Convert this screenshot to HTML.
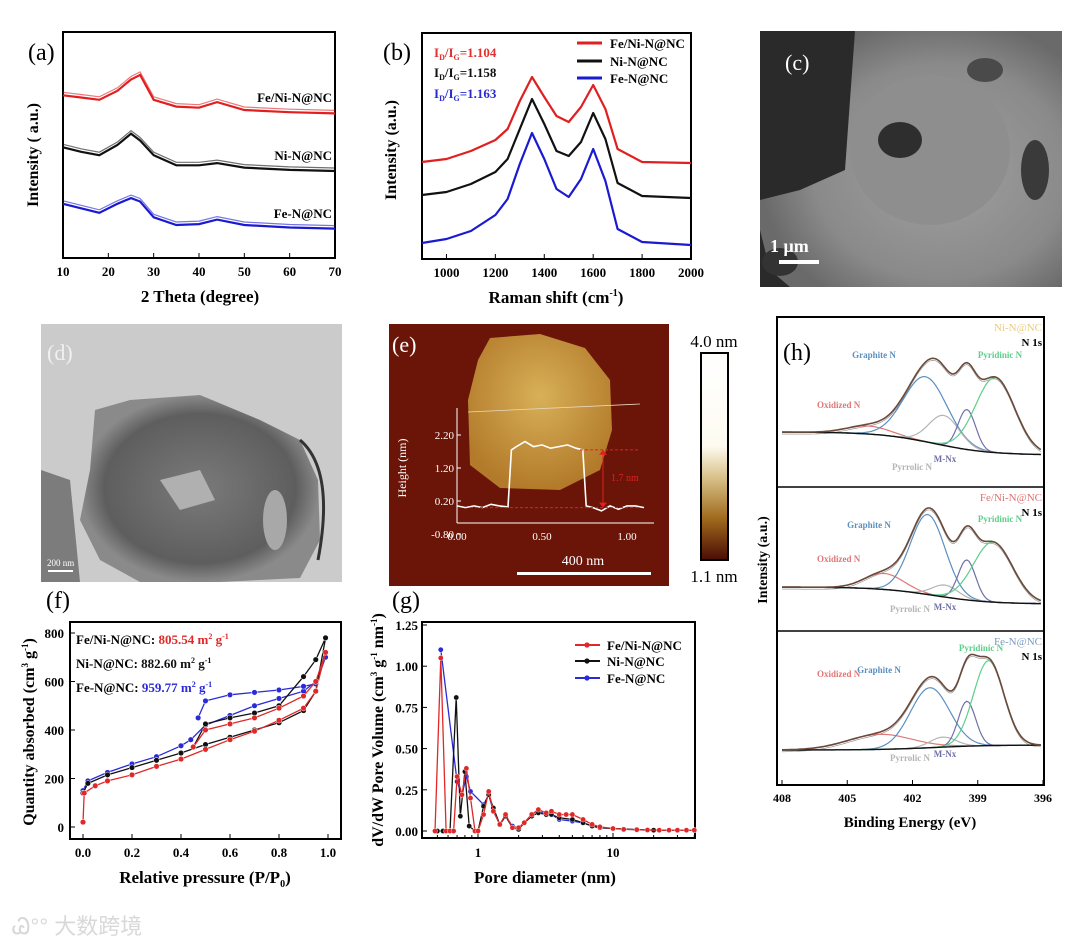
<!DOCTYPE html>
<html><head><meta charset="utf-8"><style>
html,body{margin:0;padding:0;background:#fff;}
svg{display:block;font-family:"Liberation Serif",serif;}
.b{font-weight:bold;}
</style></head><body>
<svg id="fig" width="1080" height="945" viewBox="0 0 1080 945" xmlns="http://www.w3.org/2000/svg">
<defs>
<linearGradient id="cbar" x1="0" y1="0" x2="0" y2="1">
<stop offset="0" stop-color="#ffffff"/><stop offset="0.45" stop-color="#fdfbf0"/><stop offset="0.6" stop-color="#d9c28a"/><stop offset="0.8" stop-color="#a06a1c"/><stop offset="1" stop-color="#4a0c05"/></linearGradient>
<radialGradient id="semG" cx="0.6" cy="0.55" r="0.6"><stop offset="0" stop-color="#a0a0a0"/><stop offset="0.7" stop-color="#8a8a8a"/><stop offset="1" stop-color="#6a6a6a"/></radialGradient>
<radialGradient id="temG" cx="0.5" cy="0.5" r="0.5"><stop offset="0" stop-color="#7a7a7a"/><stop offset="0.8" stop-color="#5e5e5e"/><stop offset="1" stop-color="#8a8a8a"/></radialGradient>
<radialGradient id="flakeG" cx="0.5" cy="0.4" r="0.6"><stop offset="0" stop-color="#d8b058"/><stop offset="1" stop-color="#b27a2a"/></radialGradient>
</defs>

<!-- (c) SEM image -->
<g>
<rect x="760" y="31" width="302" height="256" fill="#2a2a2a"/>
<path d="M855,31 L1062,31 L1062,287 L790,287 L770,270 L760,230 L760,200 L800,190 L845,170 L850,100 Z" fill="url(#semG)"/>
<ellipse cx="930" cy="150" rx="80" ry="75" fill="#8e8e8e"/>
<ellipse cx="900" cy="140" rx="22" ry="18" fill="#2e2e2e"/>
<ellipse cx="1035" cy="170" rx="14" ry="30" fill="#3a3a3a"/>
<ellipse cx="985" cy="70" rx="18" ry="12" fill="#4a4a4a"/>
<ellipse cx="780" cy="262" rx="18" ry="14" fill="#333"/>
<text x="785" y="70" font-size="22" fill="#fff">(c)</text>
<text x="770" y="252" font-size="18" fill="#fff" class="b">1 μm</text>
<rect x="779" y="260" width="40" height="4" fill="#fff"/>
</g>

<!-- (d) TEM image -->
<g>
<rect x="41" y="324" width="301" height="258" fill="#cbcbcb"/>
<path d="M95,410 L130,400 L200,395 L260,420 L300,440 L318,480 L320,540 L300,578 L220,582 L140,582 L100,560 L80,520 L90,470 Z" fill="url(#temG)"/>
<path d="M41,470 L70,480 L80,582 L41,582 Z" fill="#7c7c7c"/>
<path d="M160,480 L200,470 L215,500 L180,510 Z" fill="#b0b0b0"/>
<ellipse cx="275" cy="520" rx="12" ry="30" fill="#a8a8a8"/>
<path d="M300,440 Q335,470 318,560" stroke="#333" stroke-width="3" fill="none"/>
<text x="47" y="360" font-size="22" fill="#f0f0f0">(d)</text>
<text x="47" y="566" font-size="9" fill="#fff">200 nm</text>
<rect x="48" y="570" width="25" height="2" fill="#fff"/>
</g>

<!-- (e) AFM image -->
<g>
<rect x="389" y="324" width="280" height="262" fill="#6b1408"/>
<path d="M490,338 L540,334 L585,348 L610,380 L612,430 L600,470 L560,490 L500,488 L470,465 L468,400 L478,360 Z" fill="url(#flakeG)"/>
<text x="392" y="352" font-size="22" fill="#fff">(e)</text>
<line x1="468" y1="412" x2="640" y2="404" stroke="#e8d8c0" stroke-width="0.8"/>
<g id="afmInset"></g>
<text x="583" y="565" font-size="14" fill="#fff" text-anchor="middle">400 nm</text>
<rect x="517" y="572" width="134" height="3" fill="#fff"/>
<rect x="701" y="353" width="27" height="207" fill="url(#cbar)" stroke="#000" stroke-width="2"/>
<text x="714" y="347" font-size="17" text-anchor="middle">4.0 nm</text>
<text x="714" y="582" font-size="17" text-anchor="middle">1.1 nm</text>
</g>

<g id="panels"></g>

<!-- watermark -->
<text x="12" y="934" font-size="22" fill="#d8d8d8" font-family="'Liberation Sans','Noto Sans CJK SC',sans-serif">Ꮚ°° 大数跨境</text>
</svg>

<script>
// ---------- (a) XRD data ----------
const xrdX = [10,14,18,22,25,27,30,35,40,44,50,60,70];
const xrdRed = [0.72,0.71,0.70,0.74,0.79,0.81,0.70,0.67,0.665,0.69,0.655,0.645,0.64];
const xrdBlack = [0.49,0.47,0.455,0.50,0.55,0.52,0.455,0.41,0.41,0.42,0.40,0.39,0.385];
const xrdBlue = [0.24,0.22,0.20,0.24,0.265,0.25,0.18,0.146,0.15,0.17,0.146,0.135,0.13];
const xrdTicks = [10,20,30,40,50,60,70];
// ---------- (b) Raman data ----------
const ramX = [900,1000,1100,1200,1250,1300,1350,1400,1450,1500,1550,1600,1650,1700,1800,2000];
const ramRed = [97,100,108,119,130,158,182,162,143,137,152,174,150,110,97,96];
const ramBlack = [64,67,75,87,100,130,160,135,108,103,117,146,120,76,63,61];
const ramBlue = [16,20,28,44,60,95,126,100,70,62,80,110,78,30,17,14];
const ramTicks = [1000,1200,1400,1600,1800,2000];
// ---------- (e) AFM height profile ----------
const afmX = [0,0.05,0.1,0.15,0.2,0.25,0.3,0.32,0.35,0.4,0.45,0.5,0.55,0.6,0.65,0.7,0.74,0.76,0.8,0.85,0.9,0.95,1.0,1.05,1.1];
const afmH = [0.05,0.0,0.05,0.0,0.1,0.05,0.02,1.75,1.85,2.0,1.85,1.9,1.8,1.85,1.9,1.8,1.75,0.05,0.0,-0.1,0.05,-0.05,0.05,0.05,0.0];
const afmYTicks = [-0.80,0.20,1.20,2.20];
const afmXTicks = [0.00,0.50,1.00];
// ---------- (f) BET isotherms ----------
const betRedP = [0,0.005,0.05,0.1,0.2,0.3,0.4,0.5,0.6,0.7,0.8,0.9,0.95,0.99,0.95,0.9,0.8,0.7,0.6,0.5,0.45];
const betRedQ = [20,140,170,190,215,250,280,320,360,395,440,490,560,720,600,540,490,450,425,400,330];
const betBlackP = [0,0.02,0.1,0.2,0.3,0.4,0.5,0.6,0.7,0.8,0.9,0.95,0.99,0.95,0.9,0.8,0.7,0.6,0.5,0.45];
const betBlackQ = [140,180,215,245,275,305,340,370,400,430,480,560,780,690,620,500,470,450,425,330];
const betBlueP = [0,0.02,0.1,0.2,0.3,0.4,0.44,0.5,0.6,0.7,0.8,0.9,0.95,0.99,0.95,0.9,0.8,0.7,0.6,0.5,0.47];
const betBlueQ = [150,190,225,260,290,335,360,420,460,500,530,560,600,700,590,580,565,555,545,520,450];
const betXTicks = [0.0,0.2,0.4,0.6,0.8,1.0];
const betYTicks = [0,200,400,600,800];
// ---------- (g) pore size distribution ----------
const psdRedD = [0.48,0.53,0.58,0.62,0.66,0.7,0.76,0.82,0.88,0.95,1.0,1.1,1.2,1.3,1.45,1.6,1.8,2.0,2.2,2.5,2.8,3.2,3.5,4,4.5,5,6,7,8,10,12,15,18,22,26,30,35,40];
const psdRedV = [0,1.05,0,0,0,0.33,0.22,0.38,0.2,0,0,0.1,0.24,0.12,0.04,0.1,0.02,0.02,0.05,0.1,0.13,0.11,0.12,0.1,0.1,0.1,0.07,0.04,0.025,0.015,0.01,0.008,0.006,0.005,0.005,0.005,0.005,0.005];
const psdBlackD = [0.5,0.55,0.62,0.69,0.74,0.8,0.86,0.95,1.0,1.1,1.2,1.3,1.45,1.6,1.8,2.0,2.2,2.5,2.8,3.2,3.5,4,5,6,7,8,10,15,20,30,40];
const psdBlackV = [0,0,0,0.81,0.09,0.36,0.03,0,0,0.15,0.22,0.14,0.04,0.09,0.02,0.01,0.05,0.09,0.11,0.1,0.1,0.08,0.07,0.05,0.03,0.02,0.015,0.008,0.005,0.005,0.005];
const psdBlueD = [0.53,0.7,0.76,0.82,0.88,1.1,1.2,1.3,1.45,1.6,1.8,2.0,2.2,2.5,2.8,3.2,3.5,4,5,6,7,8,10,15,20,30,40];
const psdBlueV = [1.1,0.3,0.22,0.33,0.24,0.16,0.22,0.12,0.04,0.09,0.03,0.02,0.05,0.1,0.12,0.1,0.1,0.07,0.06,0.05,0.03,0.02,0.015,0.008,0.005,0.005,0.005];
const psdYTicks = [0.00,0.25,0.50,0.75,1.00,1.25];
const psdXTicks = [1,10];
// ---------- (h) XPS N1s fits: components [Oxidized, Graphite, Pyrrolic, M-Nx, Pyridinic] ----------
const xpsNames = ["Oxidized N","Graphite N","Pyrrolic N","M-Nx","Pyridinic N"];
const xpsCenters = [[404.0,401.4,400.55,399.5,398.2],[403.3,401.3,400.5,399.5,398.3],[403.5,401.2,400.6,399.5,398.5]];
const xpsAmps = [[8,65,30,40,75],[16,80,12,40,60],[15,60,10,45,85]];
const xpsWidths = [[1.0,1.0,0.7,0.4,0.9],[0.9,0.8,0.6,0.4,0.9],[1.5,0.9,0.6,0.4,0.7]];
const xpsSamples = ["Ni-N@NC","Fe/Ni-N@NC","Fe-N@NC"];
const xpsTicks = [408,405,402,399,396];

const NS="http://www.w3.org/2000/svg";
const root=document.getElementById('panels');
function el(tag,attrs,parent){const e=document.createElementNS(NS,tag);for(const k in attrs)e.setAttribute(k,attrs[k]);(parent||root).appendChild(e);return e;}
function txt(s,x,y,size,attrs,parent){const t=el('text',Object.assign({x:x,y:y,'font-size':size},attrs||{}),parent);t.textContent=s;return t;}
function path(xs,ys,sx,sy){return xs.map((v,i)=>(i?'L':'M')+sx(v).toFixed(1)+','+sy(ys[i]).toFixed(1)).join(' ');}
function lin(d0,d1,r0,r1){return v=>r0+(v-d0)/(d1-d0)*(r1-r0);}
function frame(x,y,w,h,name){const r=el('rect',{x:x,y:y,width:w,height:h,fill:'none',stroke:'#000','stroke-width':2});return r;}

// ===== (a) =====
{
const sx=lin(10,70,63,335), sy=lin(0,1,258,32);
frame(63,32,272,226,'xrd-plot-frame');
txt('(a)',28,60,24);
xrdTicks.forEach(t=>{el('line',{x1:sx(t),y1:258,x2:sx(t),y2:253,stroke:'#000'});const l=txt(t,sx(t),276,13,{'text-anchor':'middle',class:'b'});});
const xt=txt('2 Theta (degree)',200,302,17,{'text-anchor':'middle',class:'b'});
const yt=txt('Intensity ( a.u.)',0,0,16,{'text-anchor':'middle',class:'b',transform:'translate(38,155) rotate(-90)'});
[[xrdRed,'#e02020','Fe/Ni-N@NC',102,'xrd-line-fe-ni'],[xrdBlack,'#111','Ni-N@NC',160,'xrd-line-ni'],[xrdBlue,'#1a1ad0','Fe-N@NC',218,'xrd-line-fe']].forEach(s=>{
const p=el('path',{d:path(xrdX,s[0],sx,sy),fill:'none',stroke:s[1],'stroke-width':2.2});
el('path',{d:path(xrdX,s[0],sx,v=>sy(v)-3),fill:'none',stroke:s[1],'stroke-width':1.2,opacity:0.6});
const l=txt(s[2],332,s[3],13,{'text-anchor':'end',class:'b'});
});
}
// ===== (b) =====
{
const sx=lin(900,2000,422,691), sy=lin(0,226,259,33);
frame(422,33,269,226,'raman-plot-frame');
txt('(b)',383,60,24);
ramTicks.forEach(t=>{el('line',{x1:sx(t),y1:259,x2:sx(t),y2:254,stroke:'#000'});const l=txt(t,sx(t),277,13,{'text-anchor':'middle',class:'b'});});
const xt=el('text',{x:556,y:303,'font-size':17,'text-anchor':'middle',class:'b'});xt.innerHTML='Raman shift (cm<tspan font-size="10" dy="-7">-1</tspan><tspan dy="7">)</tspan>';
const yt=txt('Intensity (a.u.)',0,0,16,{'text-anchor':'middle',class:'b',transform:'translate(396,150) rotate(-90)'});
const leg=[['#e02020','Fe/Ni-N@NC',43],['#111','Ni-N@NC',61],['#1a1ad0','Fe-N@NC',78]];
[[ramRed,'raman-line-fe-ni'],[ramBlack,'raman-line-ni'],[ramBlue,'raman-line-fe']].forEach((s,i)=>{
const p=el('path',{d:path(ramX,s[0],sx,sy),fill:'none',stroke:leg[i][0],'stroke-width':2.2,'stroke-linejoin':'round'});
const ln=el('line',{x1:577,y1:leg[i][2],x2:602,y2:leg[i][2],stroke:leg[i][0],'stroke-width':3});
const l=txt(leg[i][1],610,leg[i][2]+5,13,{class:'b'});
});
[['#e03030','1.104',57],['#111','1.158',77],['#2a2ad0','1.163',98]].forEach(r=>{
const g=el('text',{x:434,y:r[2],'font-size':13,fill:r[0],class:'b'});
g.innerHTML='I<tspan font-size="8" dy="3">D</tspan><tspan dy="-3">/I</tspan><tspan font-size="8" dy="3">G</tspan><tspan dy="-3">='+r[1]+'</tspan>';
});
}
// ===== (e) inset =====
{
const g=document.getElementById('afmInset');
const sx=lin(0,1,457,627), sy=lin(0.2,2.2,501,435);
el('line',{x1:457,y1:408,x2:457,y2:523,stroke:'#fff','stroke-width':1},g);
el('line',{x1:457,y1:523,x2:654,y2:523,stroke:'#fff','stroke-width':1},g);
afmYTicks.forEach(t=>{el('line',{x1:457,y1:sy(t),x2:461,y2:sy(t),stroke:'#fff'},g);txt(t.toFixed(2),454,sy(t)+4,11,{'text-anchor':'end',fill:'#fff'},g);});
afmXTicks.forEach(t=>{txt(t.toFixed(2),sx(t),540,11,{'text-anchor':'middle',fill:'#fff'},g);});
txt('Height (nm)',0,0,12,{fill:'#fff','text-anchor':'middle',transform:'translate(406,468) rotate(-90)'},g);
const p=el('path',{d:path(afmX,afmH,sx,sy),fill:'none',stroke:'#fff','stroke-width':1.6},g);

el('line',{x1:580,y1:sy(1.75),x2:640,y2:sy(1.75),stroke:'#e02020','stroke-dasharray':'3,2'},g);
el('line',{x1:470,y1:sy(0.0),x2:640,y2:sy(0.0),stroke:'#e02020','stroke-dasharray':'3,2'},g);
el('line',{x1:603,y1:sy(1.7),x2:603,y2:sy(0.05),stroke:'#e02020'},g);
el('path',{d:`M599,${sy(1.6)} L603,${sy(1.75)} L607,${sy(1.6)} Z M599,${sy(0.15)} L603,${sy(0.0)} L607,${sy(0.15)} Z`,fill:'#e02020'},g);
txt('1.7 nm',611,481,10,{fill:'#e02020'},g);
}
// ===== (f) =====
{
const sx=lin(0,1,83,328), sy=lin(0,800,827,633);
frame(70,622,271,217,'bet-plot-frame');
txt('(f)',46,608,24);
betXTicks.forEach(t=>{el('line',{x1:sx(t),y1:839,x2:sx(t),y2:834,stroke:'#000'});const l=txt(t.toFixed(1),sx(t),857,13,{'text-anchor':'middle',class:'b'});});
betYTicks.forEach(t=>{el('line',{x1:70,y1:sy(t),x2:75,y2:sy(t),stroke:'#000'});const l=txt(t,64,sy(t)+5,13,{'text-anchor':'end',class:'b'});});
const xt=el('text',{x:205,y:883,'font-size':17,'text-anchor':'middle',class:'b'});xt.innerHTML='Relative pressure (P/P<tspan font-size="10" dy="4">0</tspan><tspan dy="-4">)</tspan>';
const yt=el('text',{'font-size':16,'text-anchor':'middle',class:'b',transform:'translate(34,732) rotate(-90)'});yt.innerHTML='Quantity absorbed (cm<tspan font-size="9" dy="-6">3</tspan><tspan dy="6"> g</tspan><tspan font-size="9" dy="-6">-1</tspan><tspan dy="6">)</tspan>';
[[betBlueP,betBlueQ,'#2a2ad8','bet-line-fe'],[betBlackP,betBlackQ,'#111','bet-line-ni'],[betRedP,betRedQ,'#e02828','bet-line-fe-ni']].forEach(s=>{
const p=el('path',{d:path(s[0],s[1],sx,sy),fill:'none',stroke:s[2],'stroke-width':1.3});
s[0].forEach((v,i)=>{const c=el('circle',{cx:sx(v),cy:sy(s[1][i]),r:2.8,fill:s[2],stroke:'#fff','stroke-width':0.5});});
});
[['Fe/Ni-N@NC: ','805.54','#e02828',644],['Ni-N@NC: ','882.60','#111',668],['Fe-N@NC: ','959.77','#2a2ad8',692]].forEach(a=>{
const t=el('text',{x:76,y:a[3],'font-size':13,class:'b'});t.innerHTML=a[0]+'<tspan fill="'+a[2]+'">'+a[1]+' m<tspan font-size="8" dy="-5">2</tspan><tspan dy="5"> g</tspan><tspan font-size="8" dy="-5">-1</tspan></tspan>';
});
}
// ===== (g) =====
{
const sx=v=>478+135*Math.log10(v), sy=lin(0,1.25,831,625);
frame(422,622,273,216,'psd-plot-frame');
txt('(g)',392,608,24);
psdXTicks.forEach(t=>{el('line',{x1:sx(t),y1:838,x2:sx(t),y2:833,stroke:'#000'});const l=txt(t,sx(t),857,13,{'text-anchor':'middle',class:'b'});});
[0.5,0.6,0.7,0.8,0.9,2,3,4,5,6,7,8,9,20,30,40].forEach(t=>el('line',{x1:sx(t),y1:838,x2:sx(t),y2:835,stroke:'#000'}));
psdYTicks.forEach(t=>{el('line',{x1:422,y1:sy(t),x2:427,y2:sy(t),stroke:'#000'});const l=txt(t.toFixed(2),418,sy(t)+5,13,{'text-anchor':'end',class:'b'});});
const xt=txt('Pore diameter (nm)',545,883,17,{'text-anchor':'middle',class:'b'});
const yt=el('text',{'font-size':16,'text-anchor':'middle',class:'b',transform:'translate(383,730) rotate(-90)'});yt.innerHTML='dV/dW Pore Volume (cm<tspan font-size="9" dy="-6">3</tspan><tspan dy="6"> g</tspan><tspan font-size="9" dy="-6">-1</tspan><tspan dy="6"> nm</tspan><tspan font-size="9" dy="-6">-1</tspan><tspan dy="6">)</tspan>';
const leg=[['#e02828','Fe/Ni-N@NC',645,'psd-line-fe-ni'],['#111','Ni-N@NC',661,'psd-line-ni'],['#2a2ad8','Fe-N@NC',678,'psd-line-fe']];
[[psdBlueD,psdBlueV,2],[psdBlackD,psdBlackV,1],[psdRedD,psdRedV,0]].forEach(s=>{
const L=leg[s[2]];
const p=el('path',{d:path(s[0],s[1],sx,sy),fill:'none',stroke:L[0],'stroke-width':1.3});
s[0].forEach((v,i)=>{const c=el('circle',{cx:sx(v),cy:sy(s[1][i]),r:2.6,fill:L[0],stroke:'#fff','stroke-width':0.4});});
});
leg.forEach(L=>{const ln=el('line',{x1:575,y1:L[2],x2:600,y2:L[2],stroke:L[0],'stroke-width':2});el('circle',{cx:587,cy:L[2],r:2.6,fill:L[0]});
const l=txt(L[1],607,L[2]+5,13,{class:'b'});});
}
// ===== (h) =====
{
const sx=lin(408,396,782,1043);
frame(777,317,267,468,'xps-plot-frame');
el('line',{x1:777,y1:487,x2:1044,y2:487,stroke:'#000','stroke-width':1.5});
el('line',{x1:777,y1:631,x2:1044,y2:631,stroke:'#000','stroke-width':1.5});
txt('(h)',783,360,24);
xpsTicks.forEach(t=>{el('line',{x1:sx(t),y1:785,x2:sx(t),y2:780,stroke:'#000'});const l=txt(t,sx(t),802,12,{'text-anchor':'middle',class:'b'});});
const xt=txt('Binding Energy (eV)',910,827,15,{'text-anchor':'middle',class:'b'});
const yt=txt('Intensity (a.u.)',0,0,14,{'text-anchor':'middle',class:'b',transform:'translate(767,560) rotate(-90)'});
const cols=['#e07878','#5b8fc0','#b4b4b4','#7070a8','#5ccf8a'];
const bgs=[[432,455],[587,604],[750,745]];
const sampleCols=['#e8cc80','#e07070','#7a9ac0'];
const tops=[317,487,631];
const labelPos=[[[817,408],[874,358],[912,470],[945,462],[1000,358]],[[817,562],[869,528],[910,612],[945,610],[1000,522]],[[817,677],[879,673],[910,761],[945,757],[981,651]]];
const E=[];for(let e=408;e>=396;e-=0.1)E.push(+e.toFixed(2));
for(let k=0;k<3;k++){
const bg=e=>bgs[k][1]+(bgs[k][0]-bgs[k][1])/(1+Math.exp(-(e-401)/1.3));
const env=E.map(e=>{let s=bg(e);for(let j=0;j<5;j++)s-=xpsAmps[k][j]*Math.exp(-Math.pow(e-xpsCenters[k][j],2)/(2*xpsWidths[k][j]*xpsWidths[k][j]));return s;});
el('path',{d:path(E,env,sx,v=>v),fill:'none',stroke:'#888','stroke-width':0.6,transform:'translate(0,2)'});
for(let j=0;j<5;j++){
const cv=E.map(e=>bg(e)-xpsAmps[k][j]*Math.exp(-Math.pow(e-xpsCenters[k][j],2)/(2*xpsWidths[k][j]*xpsWidths[k][j])));
const p=el('path',{d:path(E,cv,sx,v=>v),fill:'none',stroke:cols[j],'stroke-width':1.2});
const l=txt(xpsNames[j],labelPos[k][j][0],labelPos[k][j][1],9,{fill:cols[j],class:'b','text-anchor':j==0?'start':'middle'});
}
const bl=el('path',{d:path(E,E.map(bg),sx,v=>v),fill:'none',stroke:'#111','stroke-width':1.4});
const ep=el('path',{d:path(E,env,sx,v=>v),fill:'none',stroke:'#6b4a3a','stroke-width':1.6});
const sl=txt(xpsSamples[k],1042,tops[k]+14,11,{fill:sampleCols[k],'text-anchor':'end'});
txt('N 1s',1042,tops[k]+29,11,{class:'b','text-anchor':'end'});
}
}
</script>
</body></html>
